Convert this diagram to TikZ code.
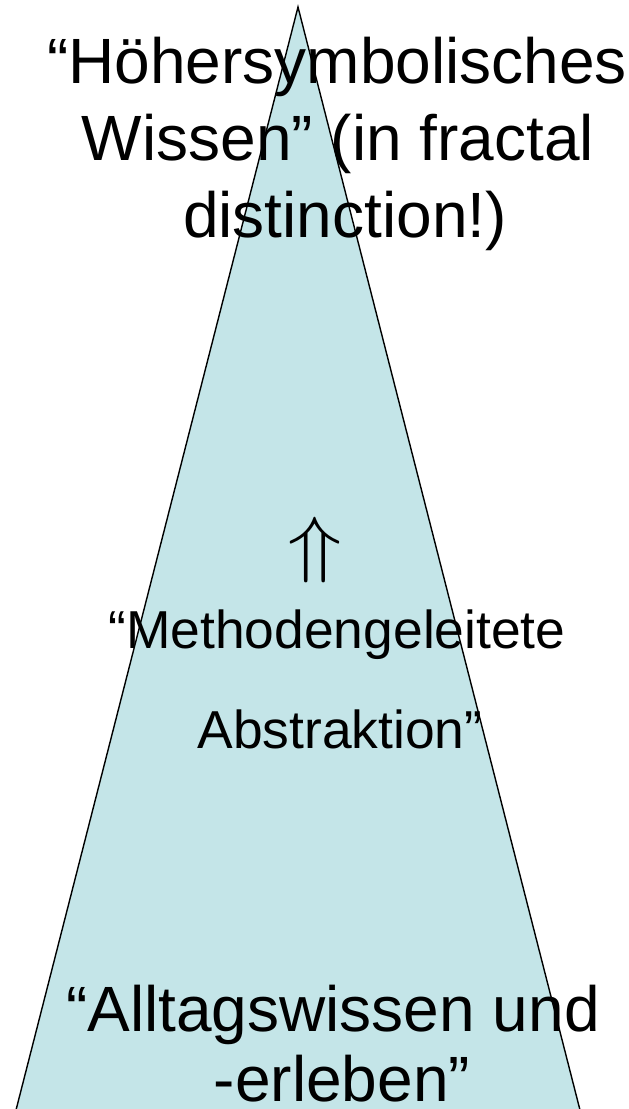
\documentclass[tikz,border=0pt]{standalone}
\usepackage{fontspec}
\setmainfont{Liberation Sans}
\definecolor{pyramidfill}{RGB}{196,229,232}
\tikzset{
  bigline/.style={anchor=base, inner sep=0pt, font=\fontsize{64}{77}\selectfont},
  midline/.style={anchor=base, inner sep=0pt, font=\fontsize{53.4}{62}\selectfont},
}
\begin{document}
\begin{tikzpicture}[x=1pt, y=-1pt]
  \useasboundingbox (0,0) rectangle (629,1109);
  \clip (0,0) rectangle (629,1109);
  % the pyramid, its base runs below the page
  \draw[fill=pyramidfill, line width=1.4pt] (298,7) -- (603,1200) -- (-7,1200) -- cycle;
  % top
  \node[bigline] (hoeher) at (337,83) {“Höhersymbolisches};
  \node[bigline] (wissen) at (338,160) {Wissen” (in fractal};
  \node[bigline] (distinct) at (345,237) {distinction!)};
  % middle
  \node[inner sep=0pt] (uparrow) at (315,550) {\scalebox{9}[7.4]{$\Uparrow$}};
  \node[midline] (method) at (337,648) {“Methodengeleitete};
  \node[midline] (abstr) at (340,748) {Abstraktion”};
  % bottom
  \node[bigline] (alltag) at (333,1031) {“Alltagswissen und};
  \node[bigline] (erleben) at (342,1101) {-erleben”};
\end{tikzpicture}
\end{document}
